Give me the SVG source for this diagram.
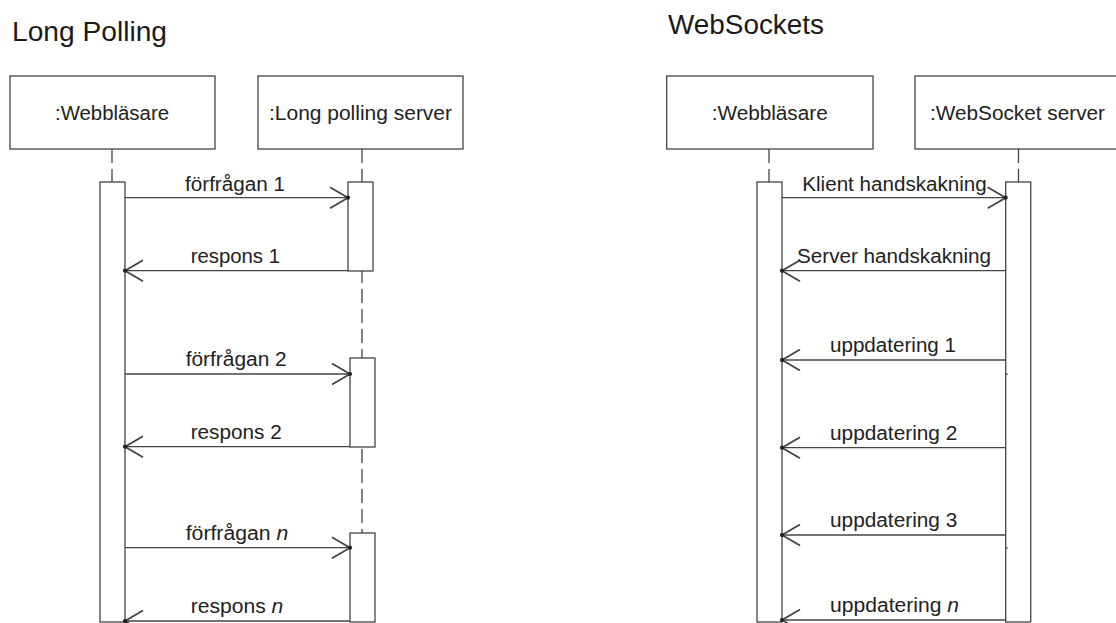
<svg xmlns="http://www.w3.org/2000/svg" width="1116" height="623" viewBox="0 0 1116 623">
  <style>
    .title { font-family: "Liberation Sans", Arial, sans-serif; font-size: 27px; fill: #1a1a1a; }
    .lbl { font-family: "Liberation Sans", Arial, sans-serif; font-size: 19.5px; fill: #222; }
    .box { fill: #fff; stroke: #444; stroke-width: 1.3; }
    .life { stroke: #444; stroke-width: 1.3; stroke-dasharray: 14 6; fill: none; }
    .msg { stroke: #444; stroke-width: 1.3; fill: none; marker-end: url(#open); }
    .tick { stroke: #444; stroke-width: 1.3; }
  </style>
  <defs>
    <marker id="open" markerUnits="userSpaceOnUse" markerWidth="30" markerHeight="30" viewBox="-15 -10 20 20" refX="0" refY="0" orient="auto">
      <path d="M-12,-7 L0,0 L-12,7" fill="none" stroke="#444" stroke-width="1.2"/>
      <circle cx="0" cy="0" r="1.4" fill="#222"/>
    </marker>
  </defs>
  <rect width="1116" height="623" fill="#fff"/>

  <!-- Long Polling -->
  <text class="title" x="12" y="41" textLength="155" lengthAdjust="spacingAndGlyphs">Long Polling</text>

  <g id="lp-browser">
    <rect class="box" x="10" y="76" width="205" height="73"/>
    <text class="lbl" x="55" y="120" textLength="114" lengthAdjust="spacingAndGlyphs">:Webbläsare</text>
    <line class="life" x1="112" y1="149" x2="112" y2="182"/>
    <rect class="box" x="100" y="182" width="25" height="440"/>
  </g>

  <g id="lp-server">
    <rect class="box" x="258" y="76" width="205" height="73"/>
    <text class="lbl" x="269" y="120" textLength="183" lengthAdjust="spacingAndGlyphs">:Long polling server</text>
    <line class="life" x1="362" y1="149" x2="362" y2="533"/>
    <rect class="box" x="348" y="182" width="25" height="89"/>
    <rect class="box" x="350" y="358" width="25" height="89"/>
    <rect class="box" x="350" y="533" width="25" height="89"/>
  </g>

  <g id="lp-messages">
    <line class="msg" x1="125" y1="197.7" x2="348" y2="197.7"/>
    <text class="lbl" x="185" y="190.5" textLength="100" lengthAdjust="spacingAndGlyphs">förfrågan 1</text>
    <line class="msg" x1="348" y1="270.7" x2="125" y2="270.7"/>
    <text class="lbl" x="190.7" y="262.7" textLength="89.3" lengthAdjust="spacingAndGlyphs">respons 1</text>
    <line class="msg" x1="125" y1="374" x2="350" y2="374"/>
    <text class="lbl" x="185.7" y="366" textLength="101" lengthAdjust="spacingAndGlyphs">förfrågan 2</text>
    <line class="msg" x1="350" y1="446.7" x2="125" y2="446.7"/>
    <text class="lbl" x="190.7" y="439.3" textLength="91" lengthAdjust="spacingAndGlyphs">respons 2</text>
    <line class="msg" x1="125" y1="547.7" x2="350" y2="547.7"/>
    <text class="lbl" x="185.7" y="540" textLength="102.6" lengthAdjust="spacingAndGlyphs">förfrågan <tspan font-style="italic">n</tspan></text>
    <line class="msg" x1="350" y1="621" x2="125" y2="621"/>
    <text class="lbl" x="190.7" y="612.7" textLength="92.6" lengthAdjust="spacingAndGlyphs">respons <tspan font-style="italic">n</tspan></text>
  </g>

  <!-- WebSockets -->
  <text class="title" x="668" y="34" textLength="156" lengthAdjust="spacingAndGlyphs">WebSockets</text>

  <g id="ws-browser">
    <rect class="box" x="666.7" y="76" width="206.3" height="73"/>
    <text class="lbl" x="711.7" y="120" textLength="116" lengthAdjust="spacingAndGlyphs">:Webbläsare</text>
    <line class="life" x1="769" y1="149" x2="769" y2="182"/>
    <rect class="box" x="757" y="182" width="25" height="440"/>
  </g>

  <g id="ws-server">
    <rect class="box" x="915" y="76" width="206" height="73"/>
    <text class="lbl" x="930" y="120" textLength="175" lengthAdjust="spacingAndGlyphs">:WebSocket server</text>
    <line class="life" x1="1018.5" y1="149" x2="1018.5" y2="182"/>
    <rect class="box" x="1005.7" y="182" width="25" height="440"/>
  </g>

  <g id="ws-messages">
    <line class="msg" x1="782" y1="197.7" x2="1005.7" y2="197.7"/>
    <text class="lbl" x="802.3" y="190.7" textLength="184.4" lengthAdjust="spacingAndGlyphs">Klient handskakning</text>
    <line class="msg" x1="1005.7" y1="270.7" x2="782" y2="270.7"/>
    <text class="lbl" x="797" y="263.3" textLength="194" lengthAdjust="spacingAndGlyphs">Server handskakning</text>
    <line class="msg" x1="1005.7" y1="360" x2="782" y2="360"/>
    <text class="lbl" x="830" y="351.7" textLength="126" lengthAdjust="spacingAndGlyphs">uppdatering 1</text>
    <line class="tick" x1="1005.7" y1="374.3" x2="1007.7" y2="374.3"/>
    <line class="msg" x1="1005.7" y1="447.7" x2="782" y2="447.7"/>
    <text class="lbl" x="830" y="440" textLength="127.3" lengthAdjust="spacingAndGlyphs">uppdatering 2</text>
    <line class="msg" x1="1005.7" y1="535" x2="782" y2="535"/>
    <text class="lbl" x="830" y="527.3" textLength="127.3" lengthAdjust="spacingAndGlyphs">uppdatering 3</text>
    <line class="tick" x1="1005.7" y1="548" x2="1007.7" y2="548"/>
    <line class="msg" x1="1005.7" y1="620" x2="782" y2="620"/>
    <text class="lbl" x="830" y="611.7" textLength="129" lengthAdjust="spacingAndGlyphs">uppdatering <tspan font-style="italic">n</tspan></text>
  </g>
</svg>
